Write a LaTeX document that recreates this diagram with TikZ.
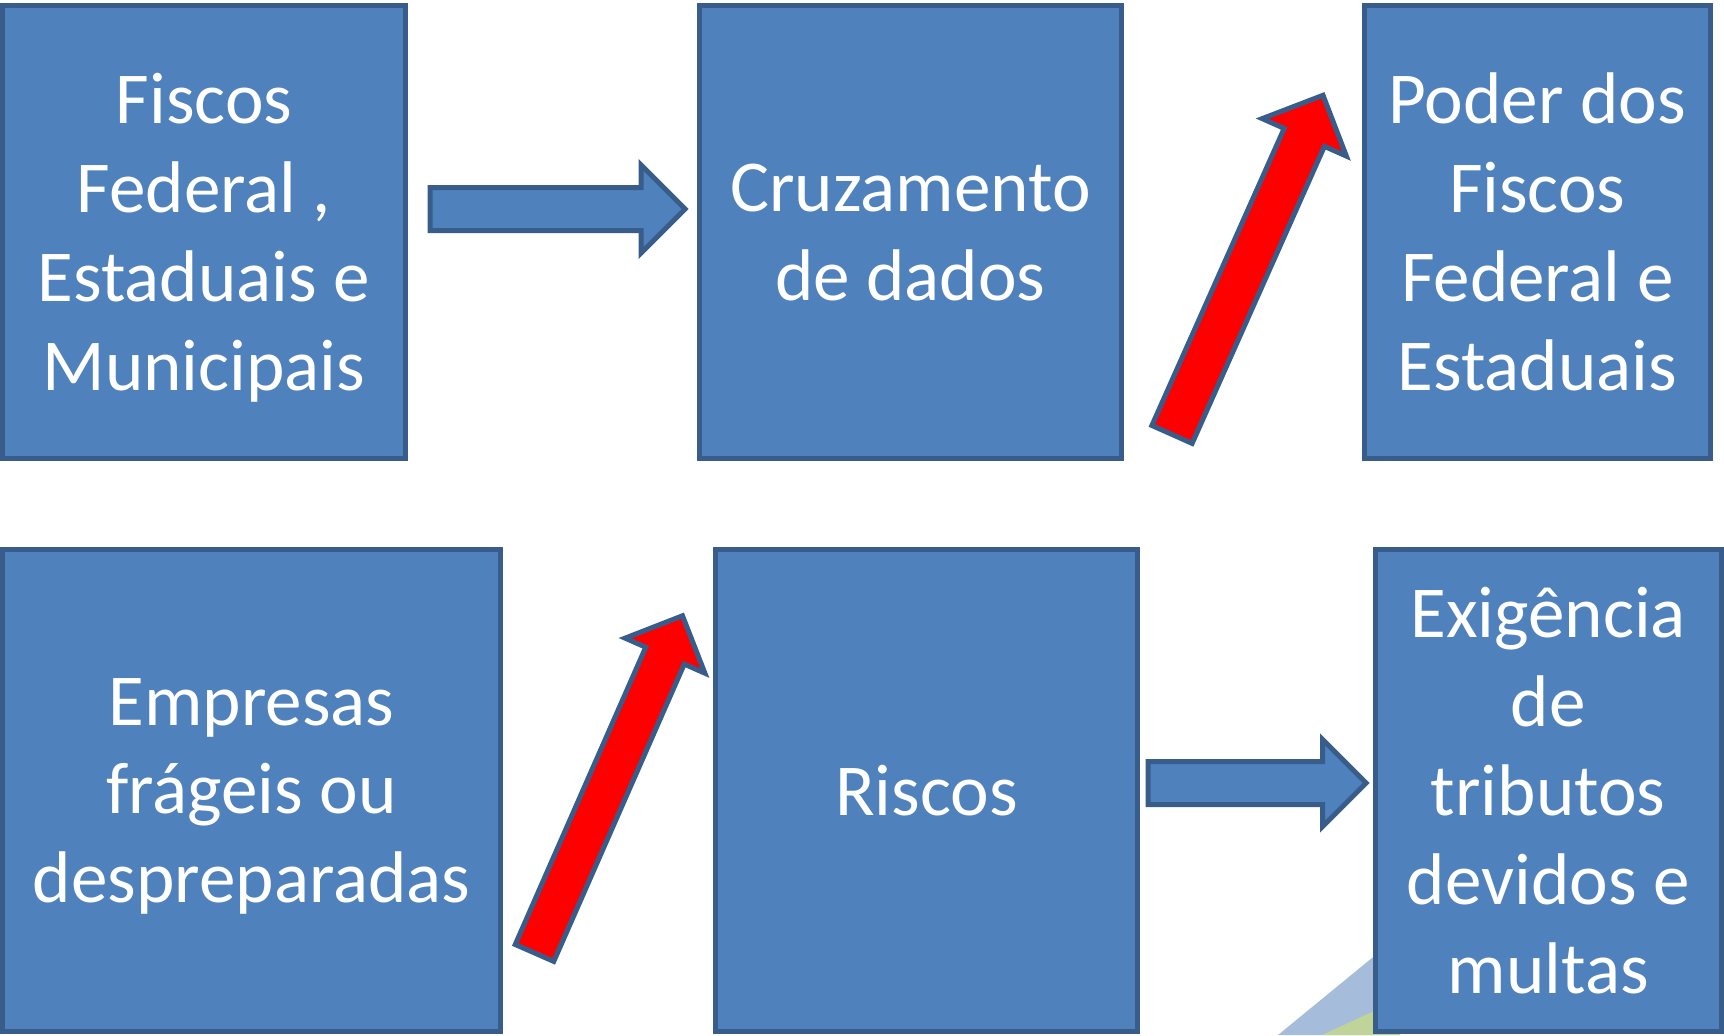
\documentclass[tikz,border=0pt]{standalone}
\usepackage{fontspec}
\setmainfont{Carlito}
\usepackage{tikz}
\usetikzlibrary{shapes.arrows,positioning}
\definecolor{cxblue}{RGB}{79,129,189}
\definecolor{cxborder}{RGB}{56,93,138}
\definecolor{cxlightblue}{RGB}{165,189,219}
\definecolor{cxgreen}{RGB}{192,211,152}
\tikzstyle{caixa} = [rectangle, draw=cxborder, fill=cxblue, line width=0.05cm, text=white, align=center, inner sep=0pt, text depth=0pt, font=\fontsize{20.8}{25.3}\selectfont]
\tikzstyle{seta} = [single arrow, draw=cxborder, fill=cxblue, line width=0.05cm, inner xsep=0pt, inner ysep=0.19cm, single arrow tip angle=90, anchor=tail]
\tikzstyle{setavermelha} = [seta, fill=red]

\begin{document}
\begin{tikzpicture}[x=0.01cm, y=-0.01cm]
\useasboundingbox (0,0) rectangle (1724,1035);

% pedaco de grafico atras da ultima caixa
\fill[cxlightblue] (1278,1035) -- (1400,935) -- (1400,1035) -- cycle;
\fill[cxgreen] (1322,1035) -- (1400,999) -- (1400,1035) -- cycle;

% linha de cima
\node (fiscos) [caixa, minimum width=4.03cm, minimum height=4.53cm] at (204,232) {Fiscos\\Federal ,\\Estaduais e\\Municipais};
\node (cruzamento) [caixa, right=2.89cm of fiscos, minimum width=4.21cm, minimum height=4.53cm] {Cruzamento\\de dados};
\node (poder) [caixa, right=2.38cm of cruzamento, minimum width=3.46cm, minimum height=4.53cm] {Poder dos\\Fiscos\\Federal e\\Estaduais};

% linha de baixo
\node (empresas) [caixa, minimum width=4.98cm, minimum height=4.82cm] at (251.5,790.5) {Empresas\\frágeis ou\\despreparadas};
\node (riscos) [caixa, right=2.10cm of empresas, minimum width=4.21cm, minimum height=4.82cm] {Riscos};
\node (exigencia) [caixa, right=2.33cm of riscos, minimum width=3.46cm, minimum height=4.82cm] {Exigência\\de\\tributos\\devidos e\\multas};

% setas azuis
\node (seta1) [seta, minimum height=2.55cm, minimum width=0.83cm, single arrow head extend=0.225cm] at (427.5,209) {};
\node (seta2) [seta, minimum height=2.18cm, minimum width=0.82cm, single arrow head extend=0.22cm] at (1145.5,783) {};

% setas vermelhas
\node (subida1) [setavermelha, rotate=66, inner ysep=0.195cm, minimum height=3.71cm, minimum width=0.87cm, single arrow head extend=0.24cm] at (1171,436.7) {};
\node (subida2) [setavermelha, rotate=66.3, inner ysep=0.185cm, minimum height=3.68cm, minimum width=0.82cm, single arrow head extend=0.225cm] at (533.5,955.2) {};

\end{tikzpicture}
\end{document}
